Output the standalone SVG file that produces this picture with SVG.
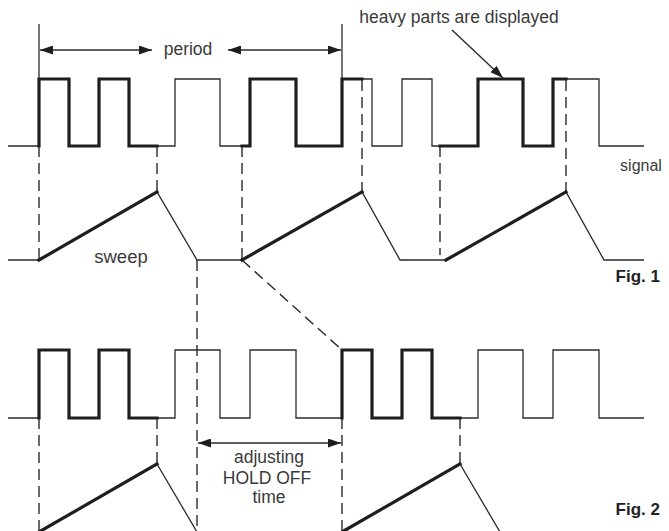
<svg xmlns="http://www.w3.org/2000/svg" width="669" height="531" viewBox="0 0 669 531">
<style>
.thin{fill:none;stroke:#2a2a2a;stroke-width:1.3;stroke-linejoin:miter}
.heavy{fill:none;stroke:#1e1e1e;stroke-width:3.2;stroke-linejoin:miter;stroke-linecap:square}
.dash{fill:none;stroke:#2a2a2a;stroke-width:1.4;stroke-dasharray:11 6}
.arr{fill:none;stroke:#2a2a2a;stroke-width:1.4}
.lbl{font-family:"Liberation Sans",Arial,sans-serif;font-size:17.5px;fill:#3a3a3a}
.fig{font-family:"Liberation Sans",Arial,sans-serif;font-size:17px;font-weight:bold;fill:#222}
</style>
<defs>
<marker id="ah" viewBox="0 0 13 9" refX="13" refY="4.5" markerWidth="13" markerHeight="9" markerUnits="userSpaceOnUse" orient="auto-start-reverse">
<path d="M0,0 L13,4.5 L0,9 z" fill="#1e1e1e"/>
</marker>
</defs>
<rect width="669" height="531" fill="#fff"/>

<g id="connectors">
<line class="thin" x1="39" y1="24" x2="39" y2="79"/>
<line class="thin" x1="342" y1="24" x2="342" y2="79"/>
<line class="arr" x1="40" y1="50" x2="152" y2="50" marker-start="url(#ah)" marker-end="url(#ah)"/>
<line class="arr" x1="228" y1="50" x2="341" y2="50" marker-start="url(#ah)" marker-end="url(#ah)"/>
<line class="arr" x1="452" y1="30" x2="503" y2="78" marker-end="url(#ah)"/>
<line class="dash" x1="39" y1="146" x2="39" y2="260"/>
<line class="dash" x1="157" y1="146" x2="157" y2="192"/>
<line class="dash" x1="242" y1="146" x2="242" y2="260"/>
<line class="dash" x1="362" y1="80" x2="362" y2="192"/>
<line class="dash" x1="440" y1="146" x2="440" y2="255"/>
<line class="dash" x1="566" y1="80" x2="566" y2="192"/>
<line class="dash" x1="197" y1="260" x2="197" y2="531"/>
<line class="dash" x1="242" y1="260" x2="342" y2="350"/>
<line class="dash" x1="39" y1="418" x2="39" y2="531"/>
<line class="dash" x1="157" y1="418" x2="157" y2="464"/>
<line class="dash" x1="342" y1="418" x2="342" y2="531"/>
<line class="dash" x1="460" y1="418" x2="460" y2="464"/>
<line class="arr" x1="198" y1="443" x2="341" y2="443" marker-start="url(#ah)" marker-end="url(#ah)"/>
</g>

<g id="fig1-signal">
<path class="thin" d="M8,146 H39 V79 H69 V146 H99 V79 H129 V146 H175 V79 H220 V146 H250 V79 H296 V146 H342 V79 H372 V146 H402 V79 H432 V146 H478 V79 H523 V146 H553 V79 H599 V146 H644"/>
<path class="heavy" d="M39,146 V79 H69 V146 H99 V79 H129 V146 H157"/>
<path class="heavy" d="M242,146 H250 V79 H296 V146 H342 V79 H362"/>
<path class="heavy" d="M440,146 H478 V79 H523 V146 H553 V79 H566"/>
</g>

<g id="fig1-sweep">
<path class="thin" d="M8,260 H39 L157,192 L197,260 H242 L362,192 L400,260 H446 L566,192 L604,260 H644"/>
<path class="heavy" d="M39,260 L157,192"/>
<path class="heavy" d="M242,260 L362,192"/>
<path class="heavy" d="M446,260 L566,192"/>
</g>

<g id="fig2-signal">
<path class="thin" d="M8,418 H39 V350 H69 V418 H99 V350 H129 V418 H175 V350 H220 V418 H250 V350 H296 V418 H342 V350 H372 V418 H402 V350 H432 V418 H478 V350 H523 V418 H553 V350 H599 V418 H644"/>
<path class="heavy" d="M39,418 V350 H69 V418 H99 V350 H129 V418 H157"/>
<path class="heavy" d="M342,418 V350 H372 V418 H402 V350 H432 V418 H460"/>
</g>

<g id="fig2-sweep">
<path class="thin" d="M157,464 L197,532"/>
<path class="thin" d="M460,464 L500,532"/>
<path class="heavy" d="M39,532 L157,464"/>
<path class="heavy" d="M342,532 L460,464"/>
</g>

<g id="labels">
<text class="lbl" x="188" y="55" text-anchor="middle">period</text>
<text class="lbl" x="459" y="23" text-anchor="middle">heavy parts are displayed</text>
<text class="lbl" x="641" y="171" text-anchor="middle" style="font-size:16px">signal</text>
<text class="lbl" x="121" y="263" text-anchor="middle" style="font-size:18.5px">sweep</text>
<text class="lbl" x="269" y="463" text-anchor="middle">adjusting</text>
<text class="lbl" x="267" y="484" text-anchor="middle">HOLD OFF</text>
<text class="lbl" x="269" y="503" text-anchor="middle">time</text>
<text class="fig" x="660" y="282" text-anchor="end">Fig. 1</text>
<text class="fig" x="660" y="515" text-anchor="end">Fig. 2</text>
</g>
</svg>
